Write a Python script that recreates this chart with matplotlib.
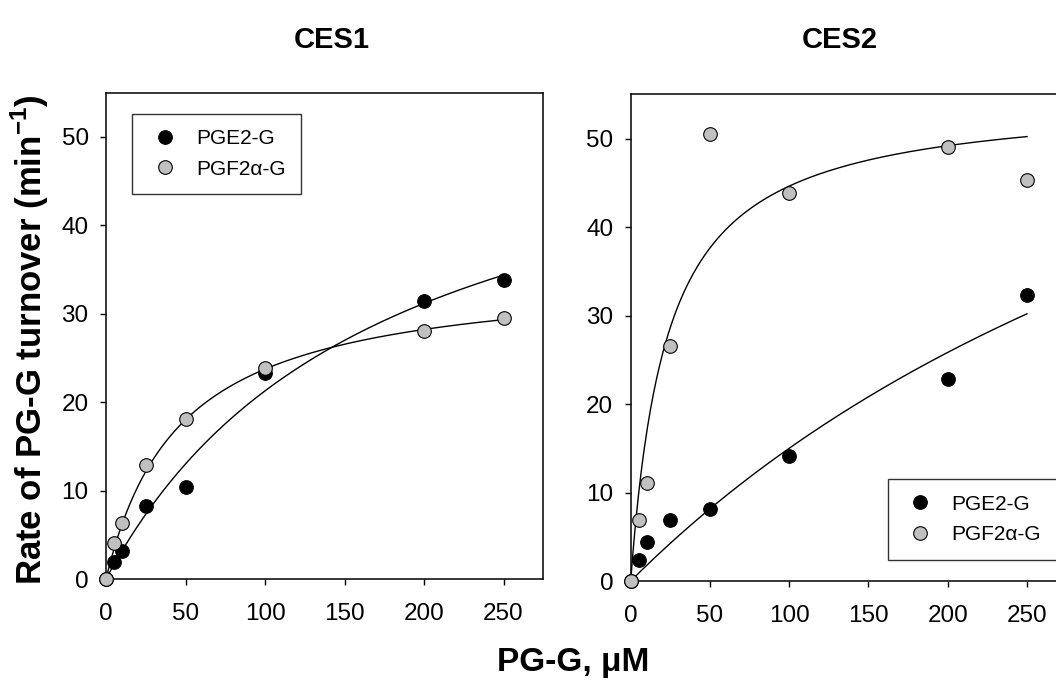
import numpy as np
import matplotlib
matplotlib.use("Agg")
import matplotlib.pyplot as plt

plt.rcParams['font.family'] = ['Liberation Sans', 'DejaVu Sans']
plt.rcParams['mathtext.fontset'] = 'custom'
plt.rcParams['mathtext.rm'] = 'Liberation Sans'
plt.rcParams['mathtext.bf'] = 'Liberation Sans:bold'

# Substrate concentrations (uM)
conc = [0, 5, 10, 25, 50, 100, 200, 250]

# CES1 measured rates (min^-1)
ces1_pge2 = [0, 1.9, 3.2, 8.3, 10.4, 23.3, 31.4, 33.8]
ces1_pgf2a = [0, 4.1, 6.3, 12.9, 18.1, 23.9, 28.0, 29.5]

# CES2 measured rates (min^-1)
ces2_pge2 = [0, 2.4, 4.4, 6.9, 8.1, 14.1, 22.8, 32.3]
ces2_pgf2a = [0, 6.9, 11.1, 26.5, 50.5, 43.8, 49.1, 45.3]

# Michaelis-Menten fit parameters (Vmax, Km)
ces1_pge2_fit = (58.3, 174.0)
ces1_pgf2a_fit = (34.8, 46.6)
ces2_pge2_fit = (93.0, 520.0)
ces2_pgf2a_fit = (54.8, 22.8)

labels = ["PGE2-G", "PGF2\u03b1-G"]
titles = ["CES1", "CES2"]
xticks = [0, 50, 100, 150, 200, 250]
yticks = [0, 10, 20, 30, 40, 50]

W, H = 1056, 681
fig = plt.figure(figsize=(W / 100, H / 100), dpi=100)

ax1 = fig.add_axes([106 / W, 1 - 579 / H, 437.3 / W, 486.3 / H])
ax2 = fig.add_axes([630.7 / W, 1 - 581 / H, 435.9 / W, 486.7 / H])


def mm(fit, s):
    v, k = fit
    return v * s / (k + s)


panels = [
    (ax1, ces1_pge2, ces1_pgf2a, ces1_pge2_fit, ces1_pgf2a_fit),
    (ax2, ces2_pge2, ces2_pgf2a, ces2_pge2_fit, ces2_pgf2a_fit),
]

s = np.linspace(0, 250, 400)
for ax, e2, f2a, fe2, ff2a in panels:
    ax.plot(s, mm(fe2, s), color='black', lw=1.0, zorder=2)
    ax.plot(s, mm(ff2a, s), color='black', lw=1.0, zorder=2)
    ax.plot(conc, e2, linestyle='none', marker='o', ms=9.8,
            mfc='black', mec='black', mew=0.8, label=labels[0], zorder=3)
    ax.plot(conc, f2a, linestyle='none', marker='o', ms=9.8,
            mfc='#c0c0c0', mec='black', mew=0.8, label=labels[1], zorder=4)
    ax.set_xlim(0, 275)
    ax.set_ylim(0, 55)
    ax.set_xticks(xticks)
    ax.set_yticks(yticks)
    ax.tick_params(direction='out', length=4.5, width=1, labelsize=17.5,
                   top=False, right=False)
    ax.tick_params(axis='x', pad=13)
    ax.tick_params(axis='y', pad=8)
    for sp in ax.spines.values():
        sp.set_linewidth(1.1)
    for m in ax.lines:
        m.set_clip_on(False)

fig.text(332 / W, 1 - 40 / H, titles[0], ha='center', va='center',
         fontsize=21, fontweight='bold')
fig.text(840 / W, 1 - 40 / H, titles[1], ha='center', va='center',
         fontsize=21, fontweight='bold')

leg_kw = dict(fontsize=15, frameon=True, fancybox=False, edgecolor='black',
              borderpad=0.75, handletextpad=0.7, labelspacing=0.55,
              borderaxespad=0, handlelength=1.6)
leg1 = ax1.legend(loc='upper left', bbox_to_anchor=(0.060, 0.957), **leg_kw)
leg1.get_frame().set_linewidth(1.0)
leg2 = ax2.legend(loc='upper left', bbox_to_anchor=(0.5906, 0.2095), **leg_kw)
leg2.get_frame().set_linewidth(1.0)

fig.text(30 / W, 1 - 340 / H, "Rate of PG-G turnover (min$^{\\mathbf{-1}}$)",
         rotation=90, ha='center', va='center', fontsize=25, fontweight='bold')
fig.text(573 / W, 1 - 662 / H, "PG-G, \u03bcM", ha='center', va='center',
         fontsize=24, fontweight='bold')

fig.savefig("out.png", dpi=100)
